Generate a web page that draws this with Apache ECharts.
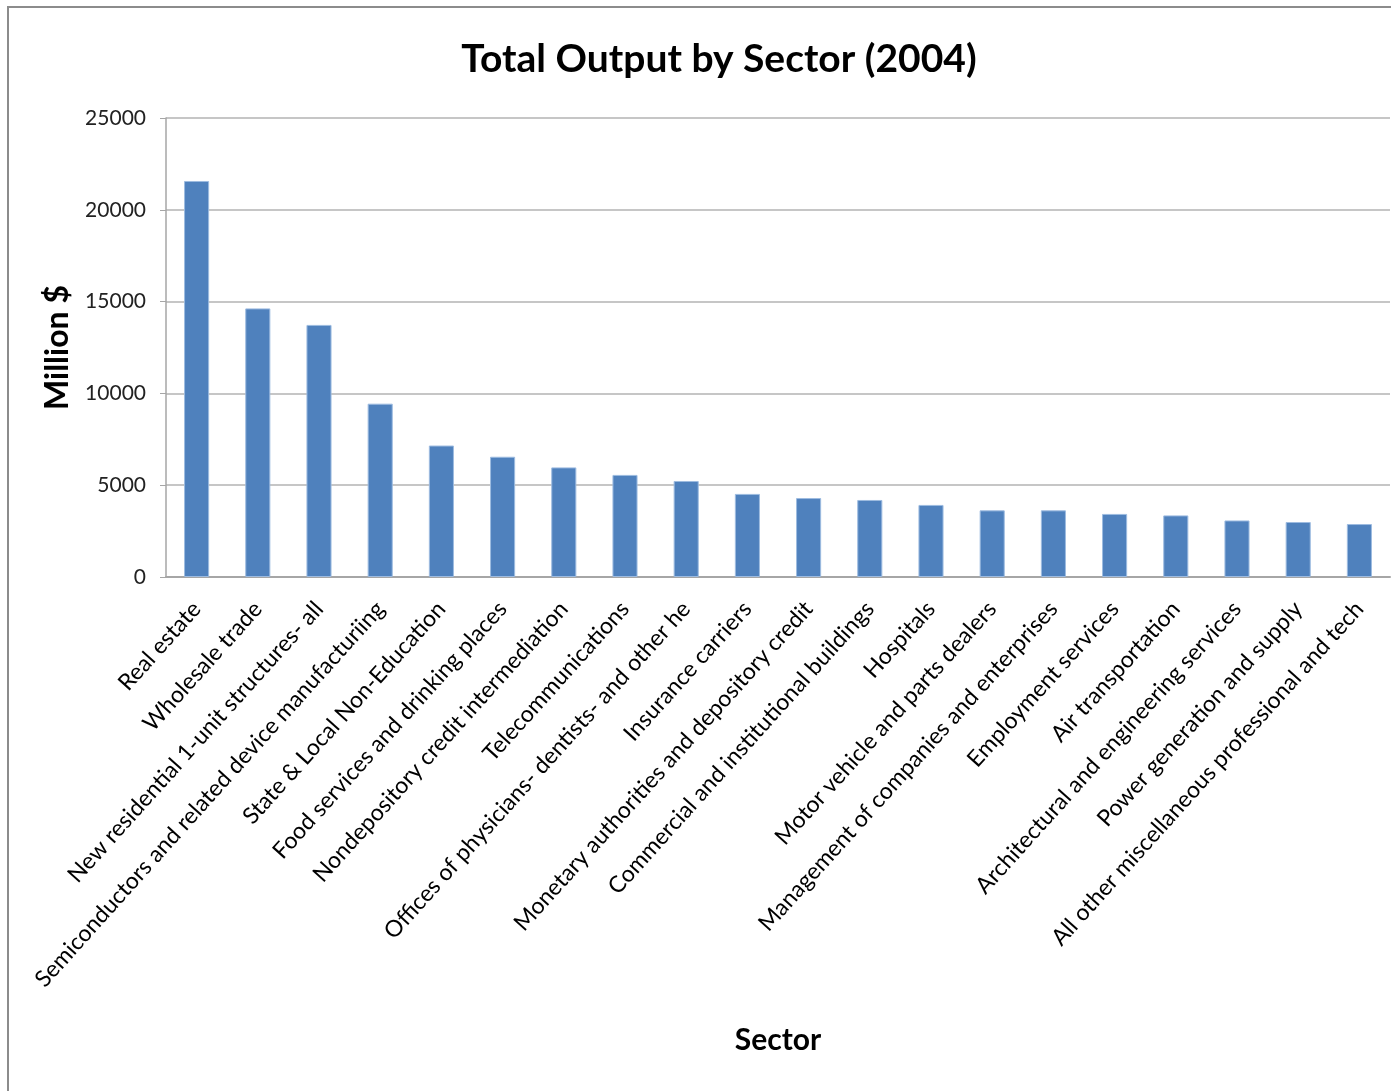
<!DOCTYPE html>
<html>
<head>
<meta charset="utf-8">
<script src="https://cdn.jsdelivr.net/npm/echarts@6/dist/echarts.min.js"></script>
<style>
html,body{margin:0;padding:0;background:#fff;}
#c{width:1391px;height:1091px;}
</style>
</head>
<body>
<div id="c"></div>
<script>
const categories = [
  "Real estate",
  "Wholesale trade",
  "New residential 1-unit structures- all",
  "Semiconductors and related device manufacturiing",
  "State & Local Non-Education",
  "Food services and drinking places",
  "Nondepository credit intermediation",
  "Telecommunications",
  "Offices of physicians- dentists- and other he",
  "Insurance carriers",
  "Monetary authorities and depository credit",
  "Commercial and institutional buildings",
  "Hospitals",
  "Motor vehicle and parts dealers",
  "Management of companies and enterprises",
  "Employment services",
  "Air transportation",
  "Architectural and engineering services",
  "Power generation and supply",
  "All other miscellaneous professional and tech"
];
const outputValues = [21570, 14630, 13730, 9440, 7160, 6550, 5970, 5560, 5230, 4525, 4300, 4195, 3925, 3630, 3630, 3435, 3355, 3080, 2995, 2885];
const yTicks = [0, 5000, 10000, 15000, 20000, 25000];

const FONT = 'Lato, "Open Sans", sans-serif';
const chart = echarts.init(document.getElementById('c'), null, {renderer: 'canvas'});
chart.setOption({
  animation: false,
  backgroundColor: '#ffffff',
  title: {
    text: 'Total Output by Sector (2004)',
    left: 714,
    textAlign: 'center',
    top: 35,
    textStyle: {fontFamily: FONT, fontWeight: 'bold', fontSize: 39, color: '#000'}
  },
  graphic: [{
    type: 'polyline',
    shape: {points: [[8, 1100], [8, 7], [1400, 7]]},
    style: {stroke: '#8c8c8c', lineWidth: 2, fill: null}
  }],
  grid: {left: 166, right: 1, top: 118, bottom: 514, containLabel: false},
  xAxis: {
    type: 'category',
    data: categories,
    name: 'Sector',
    nameLocation: 'middle',
    nameGap: 448,
    nameTextStyle: {fontFamily: FONT, fontWeight: 'bold', fontSize: 30, color: '#000'},
    axisLine: {lineStyle: {color: '#a6a6a6', width: 2}},
    axisTick: {show: false},
    axisLabel: {
      interval: 0,
      rotate: 48,
      margin: 28,
      fontFamily: FONT,
      fontSize: 23,
      color: '#000'
    }
  },
  yAxis: {
    type: 'value',
    min: yTicks[0],
    max: yTicks[yTicks.length - 1],
    interval: 5000,
    name: 'Million $',
    nameLocation: 'middle',
    nameGap: 92,
    nameTextStyle: {fontFamily: FONT, fontWeight: 'bold', fontSize: 32, color: '#000'},
    axisLine: {show: true, lineStyle: {color: '#a6a6a6', width: 1.5}},
    axisTick: {show: true, length: 6, lineStyle: {color: '#a6a6a6'}},
    splitLine: {lineStyle: {color: '#b3b3b3', width: 1.5}},
    axisLabel: {
      margin: 20,
      fontFamily: FONT,
      fontSize: 21,
      color: '#222',
      formatter: function (v) { return String(v); }
    }
  },
  series: [{
    type: 'bar',
    data: outputValues,
    barWidth: '41%',
    itemStyle: {color: '#4f81bd', borderColor: '#9dbbe0', borderWidth: 1}
  }]
});
</script>
</body>
</html>
